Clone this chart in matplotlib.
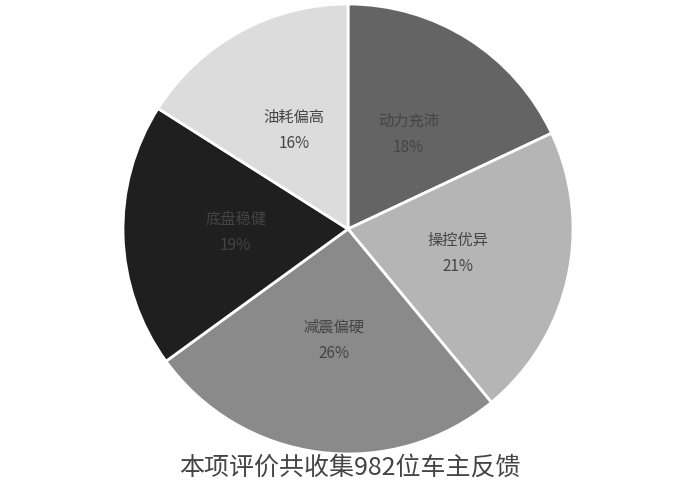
import numpy as np
import matplotlib.pyplot as plt

plt.rcParams['font.family'] = ['Noto Sans CJK SC', 'DejaVu Sans']

# data
labels = ['动力充沛', '操控优异', '减震偏硬', '底盘稳健', '油耗偏高']
values = [18, 21, 26, 19, 16]
colors = ['#646464', '#b5b5b5', '#8a8a8a', '#1f1f1f', '#dcdcdc']
title = '本项评价共收集982位车主反馈'

fig = plt.figure(figsize=(7, 5.01), dpi=100)
# pie centre at about (348, 229) px, radius 225 px
cx, cy, r = 348, 501 - 229, 225
ax = fig.add_axes([(cx - r) / 700, (cy - r) / 501, 2 * r / 700, 2 * r / 501])

wedges, _ = ax.pie(values, colors=colors, startangle=90, counterclock=False,
                   wedgeprops=dict(edgecolor='white', linewidth=2))
ax.set_xlim(-1, 1)
ax.set_ylim(-1, 1)
ax.set_aspect('equal')
ax.axis('off')

# labels inside the slices
total = sum(values)
start = 90
for lab, v in zip(labels, values):
    mid = np.deg2rad(start - v / total * 360 / 2)
    start -= v / total * 360
    x, y = 0.5 * np.cos(mid), 0.5 * np.sin(mid)
    ax.annotate(lab, (x, y), xytext=(0, 9.4), textcoords='offset points',
                ha='center', va='center', fontsize=11, color='#444444')
    ax.annotate(f'{v}%', (x, y), xytext=(0, -9.4), textcoords='offset points',
                ha='center', va='center', fontsize=11, color='#444444')

fig.text(0.5, 1 - 469 / 501, title, ha='center', va='center',
         fontsize=18, color='#444444')

fig.savefig('out.png', dpi=100, facecolor='white')
